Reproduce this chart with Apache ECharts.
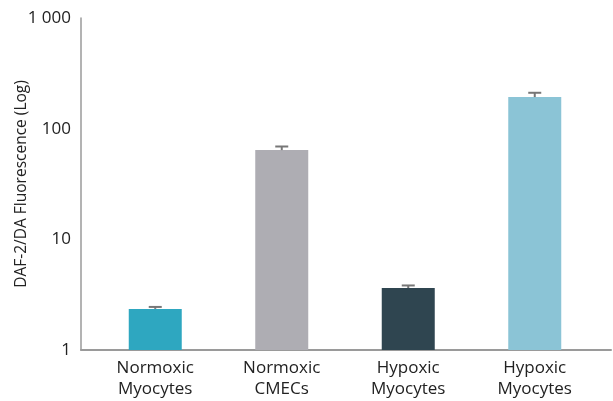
<!DOCTYPE html>
<html>
<head>
<meta charset="utf-8">
<script src="https://cdn.jsdelivr.net/npm/echarts@6/dist/echarts.min.js"></script>
<style>
  html, body { margin: 0; padding: 0; background: #fff; }
  #chart { width: 613px; height: 401px; }
</style>
</head>
<body>
<div id="chart"></div>
<script>
// Groups along the horizontal axis
const categories = ['Normoxic\nMyocytes', 'Normoxic\nCMECs', 'Hypoxic\nMyocytes', 'Hypoxic\nMyocytes'];
// Mean DAF-2/DA fluorescence per group
const meanValues = [2.35, 64, 3.63, 193];
// Upper error (SEM) per group
const errorValues = [0.1, 5, 0.2, 18];
// Bar fill per group
const barColors = ['#2EA7C0', '#AEADB3', '#2F4550', '#8BC4D6'];
// Log axis tick labels
const yTickLabels = { 1: '1', 10: '10', 100: '100', 1000: '1 000' };

const FONT = '"Open Sans", Lato, sans-serif';
const chart = echarts.init(document.getElementById('chart'), null, { renderer: 'canvas' });

chart.setOption({
  animation: false,
  backgroundColor: '#fff',
  grid: [
    // frame with the axis lines
    { left: 81, right: 2, top: 18, bottom: 51, containLabel: false, outerBoundsMode: 'none' },
    // bars and category labels
    { left: 92, width: 506, top: 18, bottom: 51, containLabel: false, outerBoundsMode: 'none' }
  ],
  xAxis: [
    {
      gridIndex: 0, type: 'value', min: 0, max: 1,
      axisLine: { show: true, lineStyle: { color: '#9a9a9a', width: 2 } },
      axisTick: { show: false }, axisLabel: { show: false }, splitLine: { show: false }
    },
    {
      gridIndex: 1, type: 'category', data: categories,
      axisLine: { show: false }, axisTick: { show: false }, splitLine: { show: false },
      axisLabel: {
        color: '#222', fontFamily: FONT, fontSize: 17, lineHeight: 21,
        margin: 8, interval: 0, align: 'center'
      }
    }
  ],
  yAxis: [
    {
      gridIndex: 0, type: 'log', logBase: 10, min: 1, max: 1000,
      name: 'DAF-2/DA Fluorescence (Log)', nameLocation: 'middle', nameGap: 51,
      nameMoveOverlap: false,
      nameTextStyle: { color: '#222', fontFamily: FONT, fontSize: 15.5 },
      axisLine: { show: true, lineStyle: { color: '#9a9a9a', width: 1.5 } },
      axisTick: { show: false }, splitLine: { show: false },
      axisLabel: {
        color: '#222', fontFamily: FONT, fontSize: 17, margin: 10,
        formatter: v => yTickLabels[Math.round(v)] || ''
      }
    },
    {
      gridIndex: 1, type: 'log', logBase: 10, min: 1, max: 1000,
      show: false
    }
  ],
  series: [
    {
      type: 'bar', xAxisIndex: 1, yAxisIndex: 1,
      barWidth: 53,
      data: meanValues.map((v, i) => ({ value: v, itemStyle: { color: barColors[i] } })),
      z: 2
    },
    {
      type: 'custom', xAxisIndex: 1, yAxisIndex: 1,
      data: meanValues.map((v, i) => [i, v, v + errorValues[i]]),
      z: 3,
      renderItem: function (params, api) {
        const base = api.coord([api.value(0), api.value(1)]);
        const top = api.coord([api.value(0), api.value(2)]);
        const half = 6.5;
        const style = { stroke: '#777', lineWidth: 2 };
        return {
          type: 'group',
          children: [
            { type: 'line', shape: { x1: base[0], y1: base[1], x2: top[0], y2: top[1] }, style },
            { type: 'line', shape: { x1: top[0] - half, y1: top[1], x2: top[0] + half, y2: top[1] }, style }
          ]
        };
      }
    }
  ]
});
</script>
</body>
</html>
